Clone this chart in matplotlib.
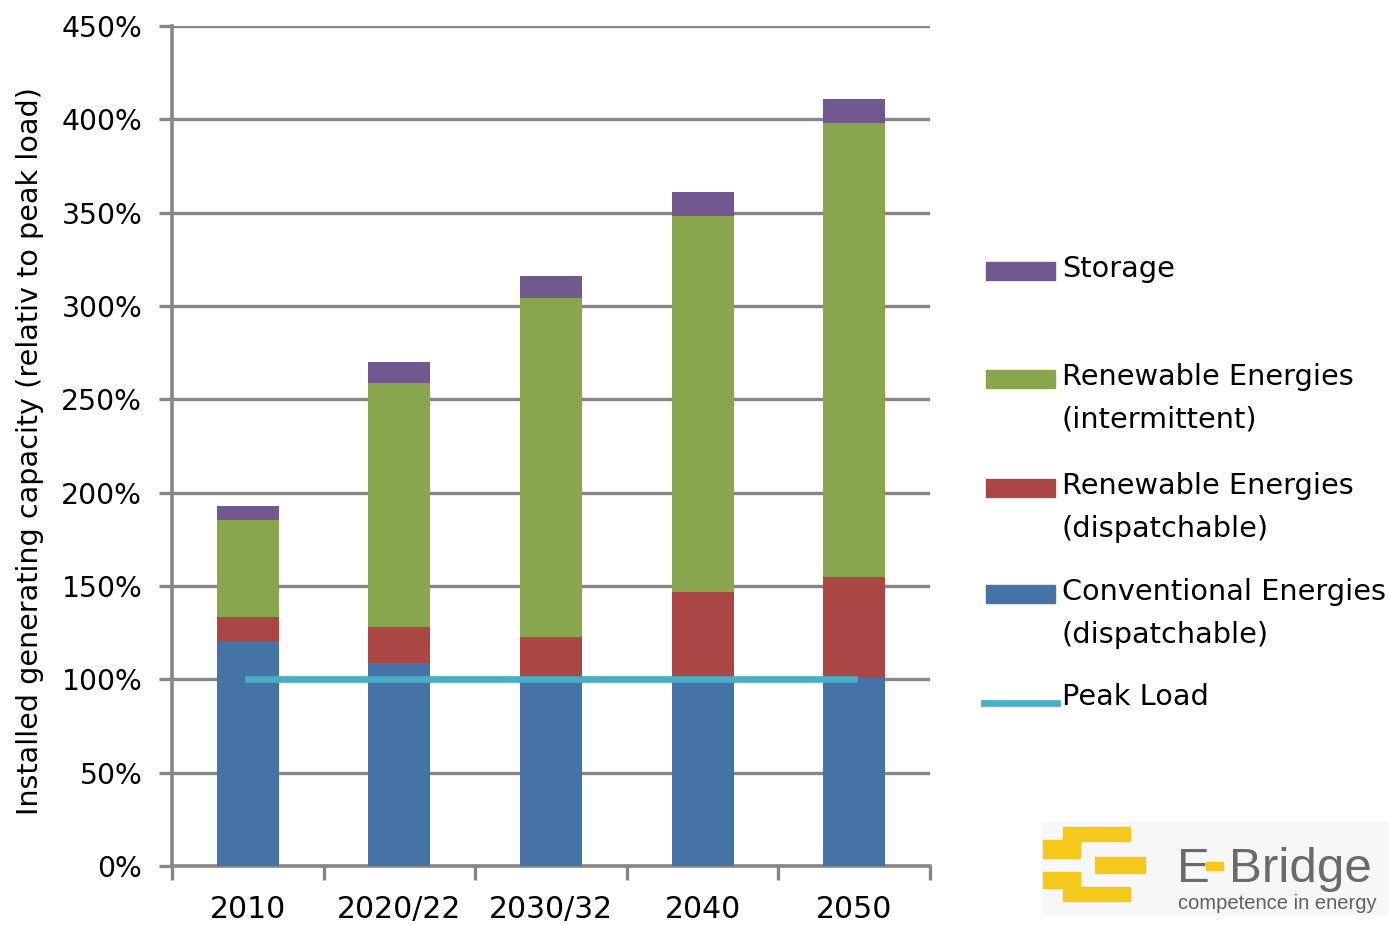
import matplotlib
matplotlib.use('Agg')
import matplotlib.pyplot as plt
from matplotlib.patches import Rectangle
from matplotlib.lines import Line2D
import numpy as np

# data (% of peak load)
years = ['2010', '2020/22', '2030/32', '2040', '2050']
conventional = [120, 108.5, 100, 100, 101]
re_dispatchable = [13.5, 19.5, 22.5, 47, 54]
re_intermittent = [52, 131, 182, 201, 243]
storage = [7.5, 11, 11.5, 13, 13]
peak_load = 100

series_labels = ['Storage', 'Renewable Energies\n(intermittent)',
                 'Renewable Energies\n(dispatchable)',
                 'Conventional Energies\n(dispatchable)', 'Peak Load']

c_conv = '#4572A7'
c_disp = '#AA4643'
c_int = '#89A54E'
c_sto = '#71588F'
c_peak = '#4BACC6'
c_grid = '#868686'

W, H = 1389, 925


def fx(x):
    return x / W


def fy(y):
    return 1 - y / H


fig = plt.figure(figsize=(W / 100, H / 100), dpi=100)
ax = fig.add_axes([fx(172), fy(866), (930 - 172) / W, (866 - 26) / H])

x = np.arange(len(years))
bw = 0.41
b1 = np.array(conventional)
b2 = b1 + np.array(re_dispatchable)
b3 = b2 + np.array(re_intermittent)

ax.bar(x, conventional, bw, color=c_conv, zorder=3)
ax.bar(x, re_dispatchable, bw, bottom=b1, color=c_disp, zorder=3)
ax.bar(x, re_intermittent, bw, bottom=b2, color=c_int, zorder=3)
ax.bar(x, storage, bw, bottom=b3, color=c_sto, zorder=3)
ax.plot([x[0], x[-1]], [peak_load, peak_load], color=c_peak, lw=4.8,
        solid_capstyle='projecting', zorder=4)

ax.set_xlim(-0.5, len(years) - 0.5)
ax.set_ylim(0, 450)
yt = np.arange(0, 451, 50)
ax.set_yticks(yt)
ax.set_yticklabels(['{}%'.format(v) for v in yt], fontsize=20.3)
ax.set_xticks(x)
ax.set_xticklabels(years, fontsize=21.5)
ax.set_xticks(np.arange(-0.5, len(years)), minor=True)

ax.yaxis.grid(True, color=c_grid, lw=2.4, zorder=0)
ax.set_axisbelow(True)
for s in ['top', 'right']:
    ax.spines[s].set_visible(False)
for s in ['left', 'bottom']:
    ax.spines[s].set_color(c_grid)
    ax.spines[s].set_linewidth(2.6)

ax.tick_params(axis='y', length=9.5, width=2.4, color=c_grid, pad=12)
ax.tick_params(axis='x', which='major', length=0, pad=21)
ax.tick_params(axis='x', which='minor', length=10, width=2.4, color=c_grid)

fig.text(fx(30), fy(451), 'Installed generating capacity (relativ to peak load)',
         rotation=90, ha='center', va='center', fontsize=20.6)

# legend drawn by hand to keep the patch on the first text line
leg_colors = [c_sto, c_int, c_disp, c_conv]
leg_y = [271, 379, 488, 594]
for col, yy, lab in zip(leg_colors, leg_y, series_labels[:4]):
    fig.add_artist(Rectangle((fx(986), fy(yy + 9)), 69 / W, 18 / H,
                             transform=fig.transFigure, color=col))
    fig.text(fx(1062), fy(yy - 16), lab, ha='left', va='top', fontsize=20.7,
             linespacing=1.67)
fig.add_artist(Line2D([fx(984), fx(1057)], [fy(703), fy(703)],
                      transform=fig.transFigure, color=c_peak, lw=4.8))
fig.text(fx(1062), fy(683), series_labels[4], ha='left', va='top', fontsize=20.7)

# E-Bridge logo
fig.add_artist(Rectangle((fx(1042), fy(914)), (1387 - 1042) / W, (914 - 822) / H,
                         transform=fig.transFigure, color='#F7F7F7', zorder=0))
yellow = '#F4C91C'
for x0, y0, x1, y1 in [(1063, 827, 1130, 841), (1043, 840, 1080, 858),
                       (1095, 857, 1145, 873), (1043, 872, 1080, 888),
                       (1063, 887, 1130, 901)]:
    fig.add_artist(Rectangle((fx(x0), fy(y1)), (x1 - x0) / W, (y1 - y0) / H,
                             transform=fig.transFigure, color=yellow))
fig.text(fx(1177), fy(882), 'E', fontsize=35.5, color='#6a6a6a',
         family='Liberation Sans', ha='left', va='baseline')
fig.add_artist(Rectangle((fx(1206), fy(870)), 17 / W, 8 / H,
                         transform=fig.transFigure, color=yellow))
fig.text(fx(1229), fy(882), 'Bridge', fontsize=35.5, color='#6a6a6a',
         family='Liberation Sans', ha='left', va='baseline')
fig.text(fx(1178), fy(909), 'competence in energy', fontsize=14.5,
         color='#606060', family='Liberation Sans', ha='left', va='baseline')

plt.savefig('out.png', dpi=100)
